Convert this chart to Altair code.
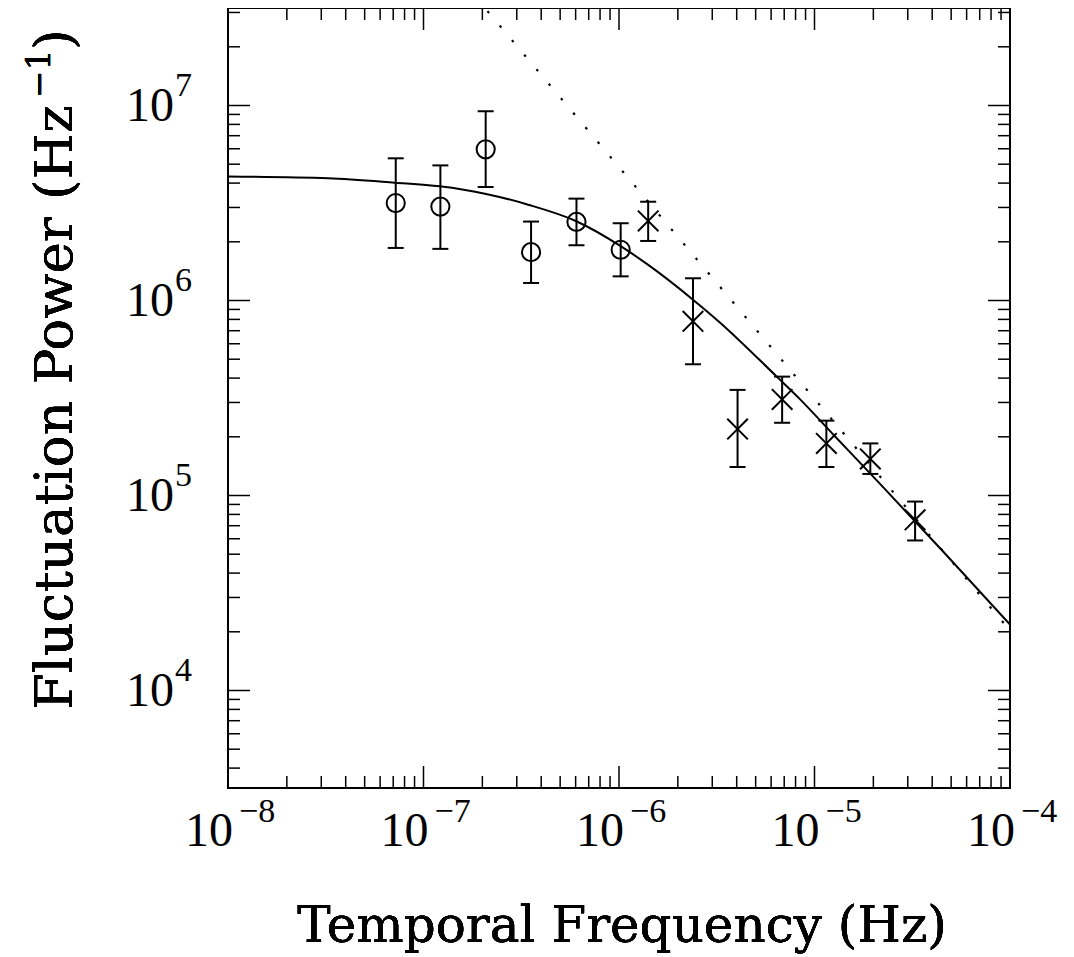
import altair as alt
import pandas as pd

# ---------------- data ----------------
circ_f = [7.21e-8, 1.22e-7, 2.08e-7, 3.55e-7, 6.06e-7, 1.02e-6]
circ_p = [3.16e6, 3.03e6, 5.96e6, 1.77e6, 2.53e6, 1.82e6]
circ_lo = [1.86e6, 1.84e6, 3.82e6, 1.23e6, 1.92e6, 1.33e6]
circ_hi = [5.36e6, 4.93e6, 9.35e6, 2.54e6, 3.33e6, 2.49e6]

cross_f = [1.41e-6, 2.39e-6, 4.04e-6, 6.83e-6, 1.15e-5, 1.93e-5, 3.27e-5]
cross_p = [2.56e6, 7.82e5, 2.19e5, 3.11e5, 1.85e5, 1.54e5, 7.50e4]
cross_lo = [2.02e6, 4.71e5, 1.40e5, 2.36e5, 1.40e5, 1.29e5, 5.88e4]
cross_hi = [3.21e6, 1.30e6, 3.48e5, 4.07e5, 2.42e5, 1.85e5, 9.31e4]

curve_f = [1e-8, 3.25e-8, 7.1e-8, 1.21e-7, 2.09e-7, 3.43e-7, 6.05e-7, 1.02e-6,
           1.44e-6, 2.39e-6, 3.29e-6, 6.41e-6, 8.42e-6, 1.25e-5, 2.25e-5, 4.56e-5, 1e-4]
curve_p = [4.32e6, 4.23e6, 4.02e6, 3.85e6, 3.52e6, 3.10e6, 2.55e6, 1.90e6,
           1.50e6, 1.01e6, 7.70e5, 4.07e5, 3.12e5, 2.05e5, 1.10e5, 5.15e4, 2.18e4]

dot_f = [2.06e-7, 1e-4]
dot_p = [3.16e7, 2.03e4]

x_major = [1e-8, 1e-7, 1e-6, 1e-5, 1e-4]
x_exp = ["\u22128", "\u22127", "\u22126", "\u22125", "\u22124"]
y_major = [1e4, 1e5, 1e6, 1e7]
y_exp = ["4", "5", "6", "7"]

x_minor = [m * 10.0 ** k for k in range(-8, -4) for m in range(2, 10)]
y_minor = [m * 10.0 ** k for k in range(3, 8) for m in range(2, 10)
           if 10 ** 3.5 <= m * 10.0 ** k <= 10 ** 7.5]

# ---------------- layout ----------------
W, H = 782, 780
MAJ, MIN = 22, 12
LABEL_FONT = "Liberation Serif"
TITLE_FONT = "DejaVu Serif"

xs = alt.Scale(type="log", domain=[1e-8, 1e-4], nice=False)
ys = alt.Scale(type="log", domain=[10 ** 3.5, 10 ** 7.5], nice=False)

circ = pd.DataFrame({"f": circ_f, "p": circ_p, "lo": circ_lo, "hi": circ_hi})
cross = pd.DataFrame({"f": cross_f, "p": cross_p, "lo": cross_lo, "hi": cross_hi})
pts = pd.concat([circ, cross], ignore_index=True)
curve = pd.DataFrame({"f": curve_f, "p": curve_p})
dots = pd.DataFrame({"f": dot_f, "p": dot_p})
xmaj = pd.DataFrame({"f": x_major, "e": x_exp})
ymaj = pd.DataFrame({"p": y_major, "e": y_exp})
xmin_df = pd.DataFrame({"f": x_minor})
ymin_df = pd.DataFrame({"p": y_minor})

X = lambda f="f": alt.X(f"{f}:Q", scale=xs, axis=None)
Y = lambda f="p": alt.Y(f"{f}:Q", scale=ys, axis=None)

layers = []

# ticks (inside, on all four sides)
for df, L in ((xmaj, MAJ), (xmin_df, MIN)):
    layers.append(alt.Chart(df).mark_rule(color="black", strokeWidth=1.5).encode(
        x=X(), y=alt.value(H), y2=alt.value(H - L)))
    layers.append(alt.Chart(df).mark_rule(color="black", strokeWidth=1.5).encode(
        x=X(), y=alt.value(0), y2=alt.value(L)))
for df, L in ((ymaj, MAJ), (ymin_df, MIN)):
    layers.append(alt.Chart(df).mark_rule(color="black", strokeWidth=1.5).encode(
        y=Y(), x=alt.value(0), x2=alt.value(L)))
    layers.append(alt.Chart(df).mark_rule(color="black", strokeWidth=1.5).encode(
        y=Y(), x=alt.value(W), x2=alt.value(W - L)))

# model lines
layers.append(alt.Chart(dots).mark_line(color="black", strokeWidth=2.2, strokeDash=[2.5, 16.5],
                                        strokeDashOffset=-4, clip=True).encode(x=X(), y=Y()))
layers.append(alt.Chart(curve).mark_line(color="black", strokeWidth=2, interpolate="monotone",
                                         clip=True).encode(x=X(), y=Y()))

# error bars
layers.append(alt.Chart(pts).mark_rule(color="black", strokeWidth=2).encode(
    x=X(), y=Y("lo"), y2="hi:Q"))
for fld in ("lo", "hi"):
    layers.append(alt.Chart(pts).mark_tick(color="black", orient="horizontal", size=16,
                                           thickness=2, opacity=1).encode(x=X(), y=Y(fld)))

# markers
layers.append(alt.Chart(circ).mark_point(shape="circle", size=330, filled=False,
                                         strokeWidth=2, color="black", opacity=1).encode(x=X(), y=Y()))
layers.append(alt.Chart(cross).mark_point(shape="M-1,-1L1,1M-1,1L1,-1", size=424, filled=False,
                                          strokeWidth=2, color="black", opacity=1).encode(x=X(), y=Y()))

# tick labels: "10" with a raised exponent
layers.append(alt.Chart(xmaj).mark_text(text="10", font=LABEL_FONT, fontSize=48, align="right",
                                        baseline="alphabetic", dx=5, color="black").encode(
    x=X(), y=alt.value(H + 58)))
layers.append(alt.Chart(xmaj).mark_text(font=LABEL_FONT, fontSize=34, align="left",
                                        baseline="alphabetic", dx=11, color="black").encode(
    x=X(), y=alt.value(H + 34), text="e:N"))
layers.append(alt.Chart(ymaj).mark_text(text="10", font=LABEL_FONT, fontSize=48, align="right",
                                        baseline="alphabetic", dy=15, color="black").encode(
    y=Y(), x=alt.value(-54)))
layers.append(alt.Chart(ymaj).mark_text(font=LABEL_FONT, fontSize=34, align="left",
                                        baseline="alphabetic", dy=-10, color="black").encode(
    y=Y(), x=alt.value(-53), text="e:N"))

# axis titles
layers.append(alt.Chart(xmaj).mark_text(text="Temporal Frequency (Hz)", font=TITLE_FONT,
                                        fontSize=50, align="center", baseline="alphabetic",
                                        color="black").encode(
    x=alt.value(W / 2 + 3), y=alt.value(H + 154)))
layers.append(alt.Chart(xmaj).mark_text(text="Fluctuation Power (Hz", font=TITLE_FONT,
                                        fontSize=53, angle=270, align="left",
                                        baseline="alphabetic", color="black").encode(
    x=alt.value(-156), y=alt.value(702)))
layers.append(alt.Chart(xmaj).mark_text(text="\u22121", font=TITLE_FONT, fontSize=33, angle=270,
                                        align="left", baseline="alphabetic",
                                        color="black").encode(
    x=alt.value(-178), y=alt.value(90)))
layers.append(alt.Chart(xmaj).mark_text(text=")", font=TITLE_FONT, fontSize=53, angle=270,
                                        align="left", baseline="alphabetic",
                                        color="black").encode(
    x=alt.value(-156), y=alt.value(42)))

chart = alt.layer(*layers).properties(
    width=W, height=H, autosize="none",
    padding={"left": 220, "top": 0, "right": 50, "bottom": 170},
    background="white",
).configure_view(stroke="black", strokeWidth=2)

chart.save("out.html", embed_options={"renderer": "svg", "actions": False})
